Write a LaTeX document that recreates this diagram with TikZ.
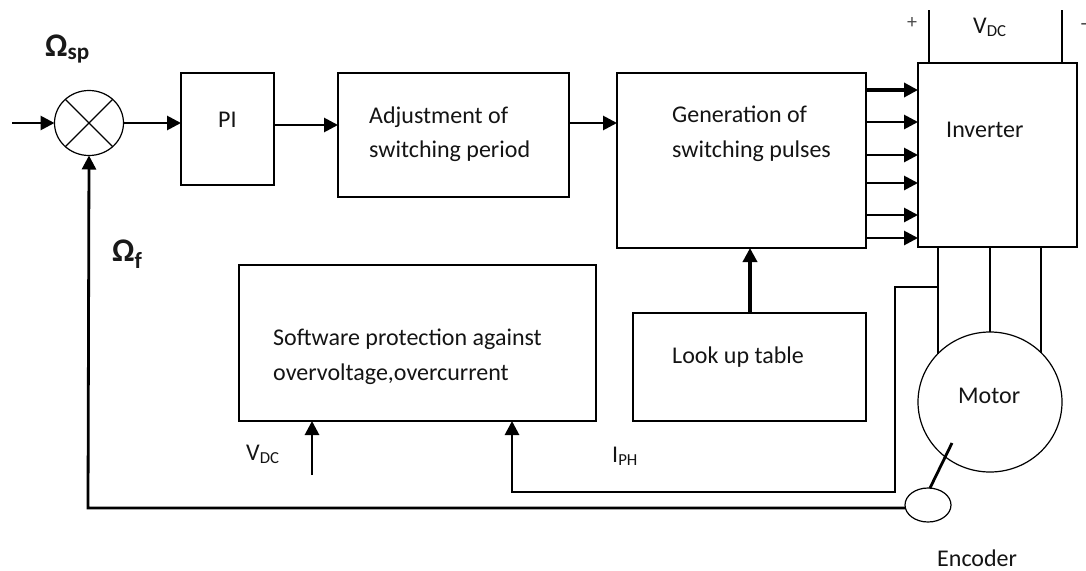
\documentclass[tikz,border=0pt]{standalone}
\usepackage{fontspec}
\setmainfont{Carlito}
\usetikzlibrary{arrows.meta,shapes.geometric}
\begin{document}
\begin{tikzpicture}[x=1pt,y=-1pt,
  box/.style={draw,line width=1.4pt,inner sep=0pt,outer sep=0pt},
  ell/.style={draw,ellipse,line width=1.2pt,inner sep=0pt,outer sep=0pt},
  arr/.style={line width=2.8pt,-{Triangle[length=14pt,width=14pt]}},
  wire/.style={line width=2.8pt},
  txt/.style={inner sep=0pt,anchor=base west,font=\fontsize{24}{34}\selectfont,text=black!92},
  sym/.style={inner sep=0pt,anchor=base west,font=\fontsize{33}{34}\selectfont\bfseries,text=black!90}]
\useasboundingbox (0,0) rectangle (1086,570);
% blocks
\node[ell,minimum width=69pt,minimum height=65pt] (sum) at (89,123) {};
\draw[line width=1.1pt] (sum.45) -- (sum.225) (sum.135) -- (sum.315);
\node[box,minimum width=93pt,minimum height=112pt] (pi) at (227.5,129) {};
\node[box,minimum width=231pt,minimum height=124pt] (adj) at (453.5,135) {};
\node[box,minimum width=249pt,minimum height=175pt] (gen) at (741.5,160.5) {};
\node[box,minimum width=159pt,minimum height=184pt] (inv) at (997.5,155) {};
\node[box,minimum width=357pt,minimum height=156pt] (prot) at (417.5,343) {};
\node[box,minimum width=233pt,minimum height=108pt] (lut) at (749.5,367) {};
\node[ell,minimum width=144pt,minimum height=140pt] (motor) at (990,402) {};
\node[ell,minimum width=46pt,minimum height=34pt] (enc) at (928,505) {};
% texts
\node[txt] (tpi) at (218,127) {PI};
\node[txt] (tadj1) at (369,123) {Adjustment of};
\node[txt] (tadj2) at (369,157) {switching period};
\node[txt] (tgen1) at (672,122) {Generation of};
\node[txt] (tgen2) at (672,157) {switching pulses};
\node[txt] (tinv) at (946,137) {Inverter};
\node[txt] (tprot1) at (273,345) {Software protection against};
\node[txt] (tprot2) at (273,380) {overvoltage,overcurrent};
\node[txt] (tlut) at (672,363) {Look up table};
\node[txt] (tmot) at (958,403) {Motor};
\node[txt] (tenc) at (937,566) {Encoder};
\node[sym] (osp) at (45,56) {Ω\textsubscript{sp}};
\node[sym] (of) at (112,261) {Ω\textsubscript{f}};
\node[txt] (vdc1) at (973,33) {V\textsubscript{DC}};
\node[txt] (vdc2) at (246,460) {V\textsubscript{DC}};
\node[txt] (iph) at (612,462) {I\textsubscript{PH}};
\node[inner sep=0pt,font=\fontsize{20}{20}\selectfont,text=black!70] (plus) at (912,23) {+};
\node[inner sep=0pt,font=\fontsize{22}{22}\selectfont,text=black!70] (minus) at (1084,27) {-};
% coordinates
\coordinate (in) at (12,123);
\coordinate (fb) at (88,508);
\coordinate (br1) at (895,287);
\coordinate (br2) at (895,492);
\coordinate (br3) at (512,492);
\coordinate (vdcsrc) at (312,475);
% connectors
\draw[arr] (in) -- (sum.west);
\draw[arr] (sum.east) -- (sum.east -| pi.west);
\draw[arr] (pi.east |- 0,125) -- (adj.west |- 0,125);
\draw[arr] (adj.east |- 0,123) -- (gen.west |- 0,123);
\draw[arr,line width=3.6pt] (gen.east |- 0,90) -- (inv.west |- 0,90);
\foreach \yy in {122,155,183,215,238}
  \draw[arr] (gen.east |- 0,\yy) -- (inv.west |- 0,\yy);
\draw[wire] (inv.north -| 929,0) -- (929,10);
\draw[wire] (inv.north -| 1062,0) -- (1062,10);
\draw[wire] (inv.south -| 938,0) -- (938,353.6);
\draw[wire] (inv.south -| 990,0) -- (motor.north);
\draw[wire] (inv.south -| 1041,0) -- (1041,352.6);
\draw[arr,line width=3.6pt] (lut.north -| 750,0) -- (gen.south -| 750,0);
\draw[arr] (938,287) -- (br1) -- (br2) -- (br3) -- (prot.south -| br3);
\draw[arr] (vdcsrc) -- (prot.south -| vdcsrc);
\draw[wire] (930,488) -- (952,443);
\draw[arr] (enc.west |- 0,508) -- (fb) -- (sum.south);
\end{tikzpicture}
\end{document}
